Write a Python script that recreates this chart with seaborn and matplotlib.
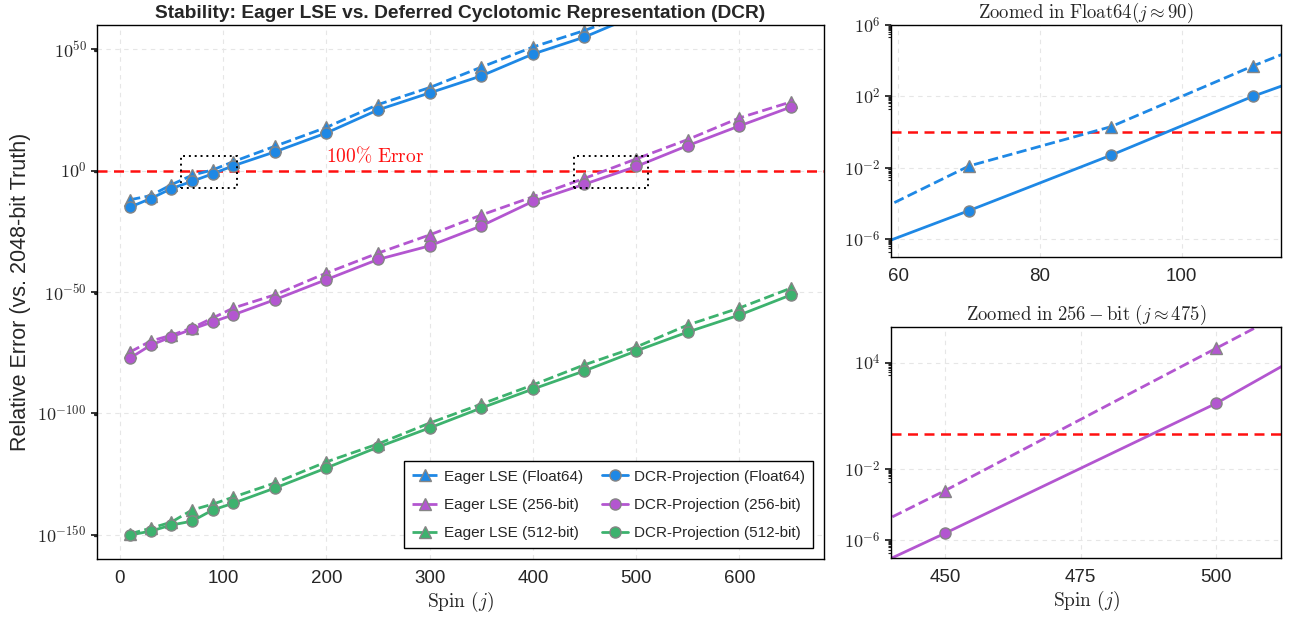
import numpy as np
import pandas as pd
import matplotlib
matplotlib.use("Agg")
import matplotlib.pyplot as plt
import seaborn as sns
from matplotlib.patches import Rectangle
from matplotlib.ticker import FixedLocator, FuncFormatter

# ---------------- data (log10 of relative error) ----------------
spin = [10, 30, 50, 70, 90, 110, 150, 200, 250, 300, 350, 400, 450, 500, 550, 600, 650]

log_eager_f64 = [-12.0, -10.3, -5.8, -1.9, 0.3, 3.7, 10.0, 17.8, 27.2, 34.2, 42.6, 50.9, 57.7, 65.5, 74.0, 82.0, 90.0]
log_dcr_f64 = [-15.0, -11.5, -7.4, -4.4, -1.3, 2.0, 7.7, 15.5, 25.0, 32.0, 39.0, 48.0, 55.0, 64.0, 72.0, 80.0, 88.0]

log_eager_256 = [-74.7, -70.2, -67.8, -64.8, -60.7, -56.6, -51.2, -42.2, -34.0, -26.5, -18.3, -10.8, -3.2, 4.8, 12.8, 21.7, 28.3]
log_dcr_256 = [-77.2, -71.9, -68.5, -65.3, -62.3, -59.4, -53.2, -44.9, -36.6, -31.0, -22.8, -12.7, -5.6, 1.7, 10.3, 18.4, 26.2]

log_eager_512 = [-149.6, -147.3, -144.8, -139.8, -137.4, -134.5, -128.7, -120.0, -112.6, -104.0, -96.2, -88.3, -80.0, -72.7, -63.6, -56.6, -48.4]
log_dcr_512 = [-150.1, -148.5, -146.0, -144.4, -139.8, -137.0, -130.8, -122.5, -113.9, -106.0, -97.8, -90.0, -82.5, -74.3, -66.5, -59.5, -51.2]

precisions = ["Float64", "256-bit", "512-bit"]
methods = ["Eager LSE", "DCR-Projection"]

main_title = "Stability: Eager LSE vs. Deferred Cyclotomic Representation (DCR)"
ylabel_text = "Relative Error (vs. 2048-bit Truth)"
xlabel_text = r"$\mathrm{Spin}\ (j)$"
threshold_text = r"$100\%\ \mathrm{Error}$"
inset1_title = r"$\mathrm{Zoomed\ in\ Float64}(j \approx 90)$"
inset2_title = r"$\mathrm{Zoomed\ in\ }256-\mathrm{bit}\ (j \approx 475)$"

main_xticks = [0, 100, 200, 300, 400, 500, 600]
main_yticks_exp = [50, 0, -50, -100, -150]
inset1_yticks_exp = [6, 2, -2, -6]
inset2_yticks_exp = [4, -2, -6]
inset1_xticks = [60, 80, 100]
inset2_xticks = [450, 475, 500]

# ---------------- tidy frame ----------------
series = {
    ("Eager LSE", "Float64"): log_eager_f64,
    ("DCR-Projection", "Float64"): log_dcr_f64,
    ("Eager LSE", "256-bit"): log_eager_256,
    ("DCR-Projection", "256-bit"): log_dcr_256,
    ("Eager LSE", "512-bit"): log_eager_512,
    ("DCR-Projection", "512-bit"): log_dcr_512,
}
rows = []
for (m, p), vals in series.items():
    for j, v in zip(spin, vals):
        rows.append({"method": m, "precision": p, "spin": j, "err": 10.0 ** v})
df = pd.DataFrame(rows)

# ---------------- style ----------------
sns.set_theme(style="ticks")
plt.rcParams["font.family"] = ["Liberation Sans", "DejaVu Sans"]
plt.rcParams["mathtext.fontset"] = "cm"
plt.rcParams["axes.unicode_minus"] = False

colors = {"Float64": "#1E88E5", "256-bit": "#B356D0", "512-bit": "#3DB26E"}
mstyle = {"Eager LSE": dict(marker="^", linestyle="--"),
          "DCR-Projection": dict(marker="o", linestyle="-")}

fig = plt.figure(figsize=(12.94, 6.21), dpi=100)
ax = fig.add_axes([0.075, 0.0998, 0.5618, 0.860])
ax1 = fig.add_axes([0.6886, 0.5862, 0.3014, 0.3735])
ax2 = fig.add_axes([0.6886, 0.1014, 0.3014, 0.3720])


def sci_label(v, pos=None):
    e = int(round(np.log10(v)))
    return r"$10^{%d}$" % e


def draw(axis, with_labels):
    for p in precisions:
        for m in methods:
            sub = df[(df.method == m) & (df.precision == p)]
            sns.lineplot(data=sub, x="spin", y="err", ax=axis, color=colors[p],
                         linewidth=2.0, markersize=8, markeredgecolor="#858585",
                         markeredgewidth=1.0, sort=False, estimator=None,
                         label=f"{m} ({p})" if with_labels else None,
                         legend=False, **mstyle[m])
    axis.axhline(1.0, color="#FF1010", linestyle="--", linewidth=1.8, dashes=(4, 2.6), zorder=1)
    axis.set_yscale("log")
    axis.grid(True, color="#e6e6e6", linestyle=(0, (4, 4)), linewidth=0.8)
    axis.set_axisbelow(True)
    for s in axis.spines.values():
        s.set_color("black")
        s.set_linewidth(1.0)
    axis.tick_params(axis="x", length=0, labelsize=13.5, pad=8)
    axis.tick_params(axis="y", which="major", length=4, width=1.3, labelsize=13, direction="out")
    axis.tick_params(axis="y", which="minor", length=2.5, width=0.8, direction="out")


def set_log_ticks(axis, exps):
    majors = [10.0 ** e for e in exps]
    axis.yaxis.set_major_locator(FixedLocator(majors))
    axis.yaxis.set_major_formatter(FuncFormatter(sci_label))
    axis.yaxis.set_minor_locator(FixedLocator([10.0 ** e * s / 10 for e in exps for s in range(2, 10)]))


# ---------------- main ----------------
draw(ax, True)
ax.set_xlim(-22, 682)
ax.set_ylim(1e-160, 1e60)
ax.set_xticks(main_xticks)
set_log_ticks(ax, main_yticks_exp)
ax.set_title(main_title, fontsize=13.8, fontweight="bold", pad=5)
ax.set_ylabel(ylabel_text, fontsize=15.5, labelpad=5)
ax.set_xlabel(xlabel_text, fontsize=14, labelpad=2)
ax.text(200, 1e2, threshold_text, color="#FF1010", fontsize=14, ha="left", va="bottom")

inset1_xlim = (59, 114)
inset2_xlim = (440, 512)
inset_ylim = (1e-7, 1e6)
for xl in (inset1_xlim, inset2_xlim):
    ax.add_patch(Rectangle((xl[0], inset_ylim[0]), xl[1] - xl[0], inset_ylim[1] - inset_ylim[0],
                           fill=False, edgecolor="black", linestyle=(0, (1, 2)), linewidth=1.4, zorder=5))

handles, labels = ax.get_legend_handles_labels()
order = [0, 2, 4, 1, 3, 5]
leg = ax.legend([handles[i] for i in order], [labels[i] for i in order], ncol=2,
                loc="lower right", fontsize=11, frameon=True, fancybox=False,
                framealpha=1, edgecolor="black", borderaxespad=0.7, labelspacing=0.92,
                handlelength=1.7, handletextpad=0.4, columnspacing=1.2, borderpad=0.55)
leg.get_frame().set_linewidth(1.0)

# ---------------- insets ----------------
for axis, xl, xt, yexps, title in ((ax1, inset1_xlim, inset1_xticks, inset1_yticks_exp, inset1_title),
                                   (ax2, inset2_xlim, inset2_xticks, inset2_yticks_exp, inset2_title)):
    draw(axis, False)
    axis.set_xlim(*xl)
    axis.set_ylim(*inset_ylim)
    axis.set_xticks(xt)
    set_log_ticks(axis, yexps)
    axis.set_title(title, fontsize=13.5, pad=5)
    axis.set_ylabel("")
    axis.set_xlabel("")

ax2.set_xlabel(xlabel_text, fontsize=14, labelpad=2)

fig.savefig("out.png", dpi=100)
